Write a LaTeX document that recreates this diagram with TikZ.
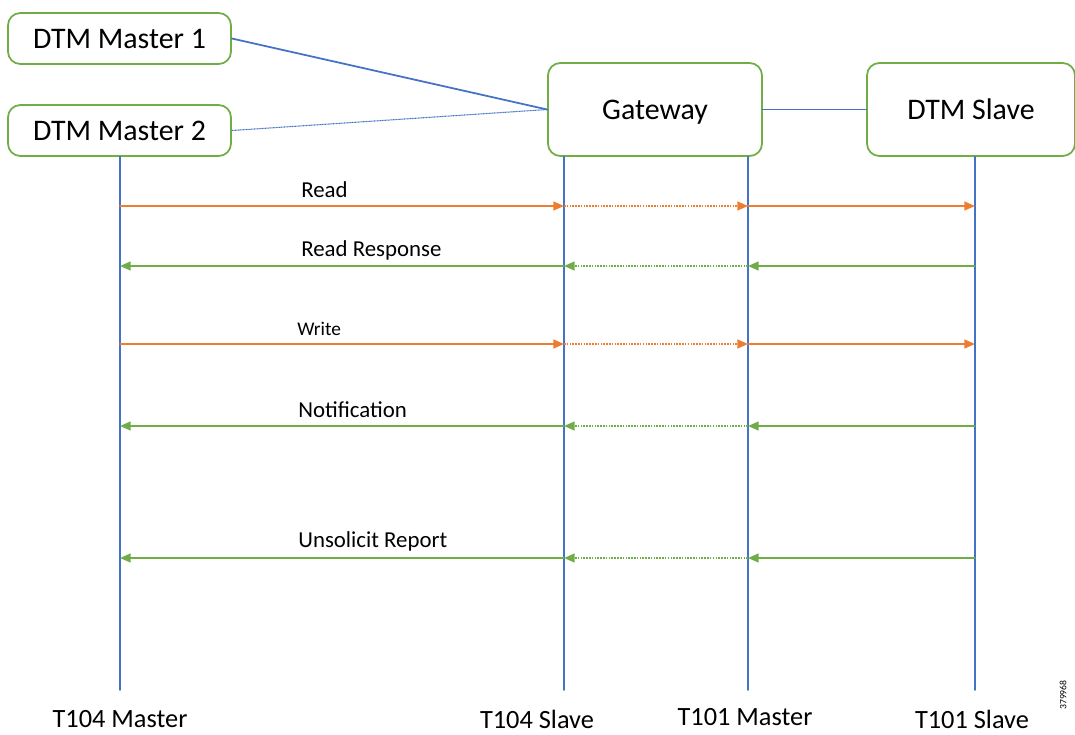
\documentclass[tikz,border=0pt]{standalone}
\usepackage{fontspec}
\setmainfont{Carlito}
\usepackage{xcolor}
\usetikzlibrary{arrows.meta,positioning}
\definecolor{dtmgreen}{RGB}{112,173,71}
\definecolor{dtmorange}{RGB}{237,125,49}
\definecolor{dtmblue}{RGB}{68,114,196}
\tikzset{
  box/.style={draw=dtmgreen, line width=1pt, rounded corners=7pt, fill=white, text height=13pt, text depth=2pt, font=\fontsize{17}{20}\selectfont},
  life/.style={draw=dtmblue, line width=1pt},
  link/.style={draw=dtmblue, line width=1pt},
  req/.style={draw=dtmorange, line width=1pt, -{Triangle[length=6pt,width=5pt]}},
  rsp/.style={draw=dtmgreen, line width=1pt, -{Triangle[length=6pt,width=5pt]}},
  hop/.style={line cap=butt, dash pattern=on 0.9pt off 0.7pt},
  msg/.style={anchor=west, inner sep=0pt, font=\fontsize{13}{15}\selectfont},
  tag/.style={font=\fontsize{15}{18}\selectfont},
  every picture/.style={line cap=round, line join=round}
}

\begin{document}
\begin{tikzpicture}[x=0.02cm, y=-0.02cm]
  \useasboundingbox (0,0) rectangle (1075,734);
  % devices
  \node[box, minimum width=4.46cm, minimum height=1.02cm] (m1) at (119.5,38.5) {DTM Master 1};
  \node[box, minimum width=4.46cm, minimum height=1.02cm] (m2) at (119.5,130.5) {DTM Master 2};
  \node[box, minimum width=4.28cm, minimum height=1.86cm] (gw) at (655,109.5) {Gateway};
  \node[box, minimum width=4.16cm, minimum height=1.86cm] (sl) at (971,109.5) {DTM Slave};
  \draw[link] (m1.east) -- (gw.west);
  \draw[link, line width=0.6pt, line cap=butt, dash pattern=on 0.6pt off 0.3pt] (m2.east) -- (gw.west);
  \draw[link] (gw.east) -- (sl.west);
  % lifelines
  \coordinate (e104m) at (120,690);
  \coordinate (e104s) at (564,690);
  \coordinate (e101m) at (748,690);
  \coordinate (e101s) at (975,690);
  \draw[life] (m2.south -| e104m) -- (e104m);
  \draw[life] (gw.south -| e104s) -- (e104s);
  \draw[life] (gw.south -| e101m) -- (e101m);
  \draw[life] (sl.south -| e101s) -- (e101s);
  \node[tag] (l104m) at (120,719) {T104 Master};
  \node[tag] (l104s) at (537,719) {T104 Slave};
  \node[tag] (l101m) at (745,717) {T101 Master};
  \node[tag] (l101s) at (972,719) {T101 Slave};
  % read
  \coordinate (read) at (0,206);
  \draw[req] (read -| e104m) -- (read -| e104s);
  \draw[req, hop] (read -| e104s) -- (read -| e101m);
  \draw[req] (read -| e101m) -- (read -| e101s);
  \node[msg] (lread) at (301,190) {Read};
  % read response
  \coordinate (resp) at (0,266);
  \draw[rsp] (resp -| e101s) -- (resp -| e101m);
  \draw[rsp, hop] (resp -| e101m) -- (resp -| e104s);
  \draw[rsp] (resp -| e104s) -- (resp -| e104m);
  \node[msg] (lresp) at (301,250) {Read Response};
  % write
  \coordinate (wrt) at (0,344);
  \draw[req] (wrt -| e104m) -- (wrt -| e104s);
  \draw[req, hop] (wrt -| e104s) -- (wrt -| e101m);
  \draw[req] (wrt -| e101m) -- (wrt -| e101s);
  \node[msg, font=\fontsize{11}{13}\selectfont] (lwrt) at (297,329) {Write};
  % notification
  \coordinate (note) at (0,426);
  \draw[rsp] (note -| e101s) -- (note -| e101m);
  \draw[rsp, hop] (note -| e101m) -- (note -| e104s);
  \draw[rsp] (note -| e104s) -- (note -| e104m);
  \node[msg] (lnote) at (298,410) {Notification};
  % unsolicited
  \coordinate (unso) at (0,558);
  \draw[rsp] (unso -| e101s) -- (unso -| e101m);
  \draw[rsp, hop] (unso -| e101m) -- (unso -| e104s);
  \draw[rsp] (unso -| e104s) -- (unso -| e104m);
  \node[msg] (lunso) at (298,541) {Unsolicit Report};
  \node[rotate=90, font=\fontsize{5.5}{6.5}\selectfont] (fig) at (1063,695) {379968};
\end{tikzpicture}
\end{document}
